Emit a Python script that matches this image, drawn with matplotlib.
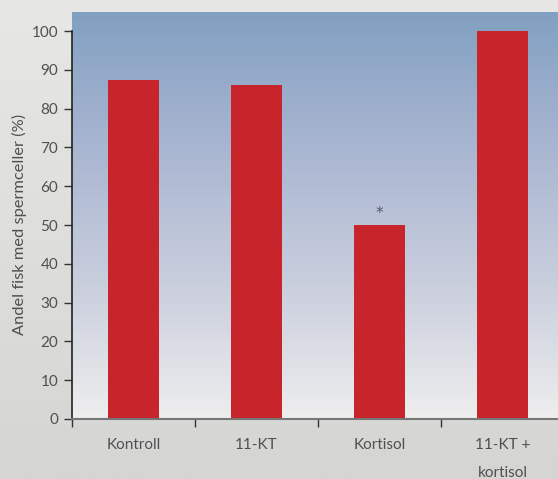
import numpy as np
import matplotlib.pyplot as plt
from matplotlib.colors import LinearSegmentedColormap

categories = ['Kontroll', '11-KT', 'Kortisol', '11-KT +\nkortisol']
values = [87.5, 86, 50, 100]
significant = [False, False, True, False]
yticks = [0, 10, 20, 30, 40, 50, 60, 70, 80, 90, 100]

plt.rcParams['font.family'] = ['Lato', 'DejaVu Sans']
text_color = '#505050'

fig = plt.figure(figsize=(5.58, 4.79), dpi=100)

# figure background gradient
bg = fig.add_axes([0, 0, 1, 1], zorder=-10)
bg_cmap = LinearSegmentedColormap.from_list('bg', ['#e7e7e5', '#d5d5d3'])
bg.imshow(np.linspace(0, 1, 256).reshape(-1, 1), aspect='auto', cmap=bg_cmap,
          extent=[0, 1, 0, 1], transform=bg.transAxes)
bg.axis('off')

ax = fig.add_axes([72 / 558, (479 - 419) / 479, 492 / 558, (419 - 12) / 479])
ax.set_facecolor('none')

# axes background gradient (blue top -> pale bottom)
ax_cmap = LinearSegmentedColormap.from_list('ax', ['#eeeeee', '#c9cedd', '#a9b6d1', '#82a0c2'])
ax.imshow(np.linspace(0, 1, 256).reshape(-1, 1), aspect='auto', cmap=ax_cmap, origin='lower',
          extent=[0, 1, 0, 1], transform=ax.transAxes, zorder=0)

x = np.arange(len(categories))
ax.bar(x, values, width=0.41, color='#c8242b', zorder=2)

for xi, v, s in zip(x, values, significant):
    if s:
        ax.text(xi, v + 1.0, '*', ha='center', va='bottom', fontsize=11, color='#555566',
                family='DejaVu Sans', zorder=3)

ax.set_xlim(-0.5, len(categories) - 0.5)
ax.set_ylim(0, 104.9)

ax.set_yticks(yticks)
ax.set_yticklabels([str(t) for t in yticks], fontsize=11, color=text_color)
ax.set_xticks(x)
ax.set_xticklabels(categories, fontsize=11, color=text_color, linespacing=2.2)
ax.tick_params(axis='x', length=0, pad=14)
ax.set_xticks(np.arange(0, len(categories) + 1) - 0.5, minor=True)
ax.tick_params(axis='x', which='minor', length=6, width=1, color='#333333', direction='out')
ax.tick_params(axis='y', length=6, width=1, color='#333333', direction='out', pad=4)

for side in ['top', 'right']:
    ax.spines[side].set_visible(False)
ax.spines['left'].set_color('#222222')
ax.spines['left'].set_linewidth(1.2)
ax.spines['left'].set_bounds(0, 100)
ax.spines['bottom'].set_color('#777777')
ax.spines['bottom'].set_linewidth(1.5)
ax.spines['bottom'].set_zorder(3)

ax.set_ylabel('Andel fisk med spermceller (%)', fontsize=11.8, color=text_color)
ax.yaxis.set_label_coords(-0.092, 0.477)

fig.savefig('out.png', dpi=100)
